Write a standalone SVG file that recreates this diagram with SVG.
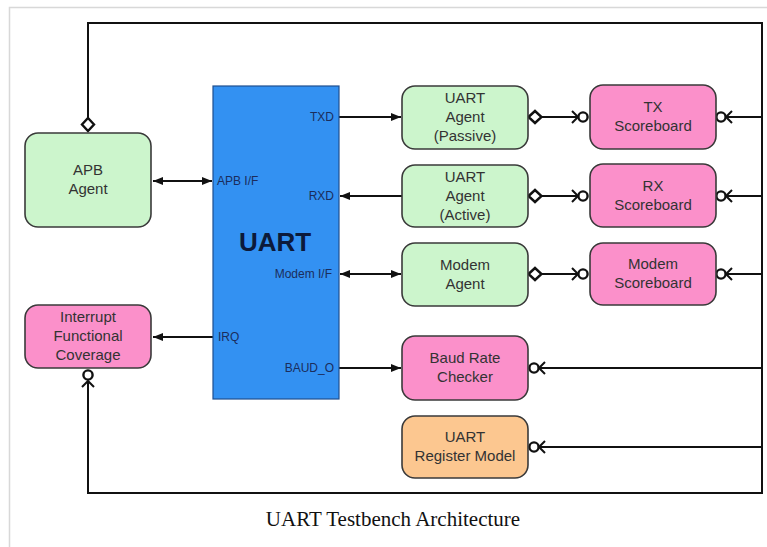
<svg xmlns="http://www.w3.org/2000/svg" width="767" height="547" viewBox="0 0 767 547">
  <defs>
    <style>
      .node { stroke: #3a3a3a; stroke-width: 1.6; }
      .green { fill: #ccf5cc; }
      .pink { fill: #fb90ca; }
      .orange { fill: #fcc790; }
      .uart { fill: #3391f2; stroke: #1f4f8f; stroke-width: 1.2; }
      .label { font-family: "Liberation Sans", Arial, sans-serif; font-size: 15px; fill: #333; text-anchor: middle; }
      .port { font-family: "Liberation Sans", Arial, sans-serif; font-size: 12px; fill: #1b2d5c; }
      .title { font-family: "Liberation Sans", Arial, sans-serif; font-size: 26px; font-weight: bold; fill: #0c1a3a; text-anchor: middle; }
      .caption { font-family: "Liberation Serif", "Times New Roman", serif; font-size: 21px; fill: #111; text-anchor: middle; }
      .wire { fill: none; stroke: #111; stroke-width: 2; }
      .port-sym { fill: #fff; stroke: #111; stroke-width: 2.4; }
      .chev { fill: none; stroke: #111; stroke-width: 2; }
    </style>
    <marker id="arrow" viewBox="0 0 10 8" refX="10" refY="4" markerWidth="10" markerHeight="8" markerUnits="userSpaceOnUse" orient="auto-start-reverse">
      <path d="M0,0 L10,4 L0,8 Z" fill="#111"/>
    </marker>
  </defs>

  <!-- page frame -->
  <rect width="767" height="547" fill="#fff"/>
  <path d="M9.5,547 V7.5 H767" fill="none" stroke="#d8d8d8" stroke-width="1.5"/>

  <!-- connectors -->
  <g id="connectors">
    <!-- global analysis loop -->
    <path class="wire" d="M88,118 V23 H762 V493 H88 V381"/>
    <path class="wire" d="M762,117 H726 M762,196 H726 M762,274 H726 M762,368 H539 M762,447 H539"/>

    <!-- UART pin connections -->
    <line class="wire" x1="153" y1="181" x2="212" y2="181" marker-start="url(#arrow)" marker-end="url(#arrow)"/>
    <line class="wire" x1="339" y1="117" x2="401" y2="117" marker-end="url(#arrow)"/>
    <line class="wire" x1="402" y1="196" x2="340" y2="196" marker-end="url(#arrow)"/>
    <line class="wire" x1="340" y1="274" x2="401" y2="274" marker-start="url(#arrow)" marker-end="url(#arrow)"/>
    <line class="wire" x1="213" y1="337" x2="153" y2="337" marker-end="url(#arrow)"/>
    <line class="wire" x1="339" y1="368" x2="401" y2="368" marker-end="url(#arrow)"/>

    <!-- agent to scoreboard analysis links -->
    <path class="wire" d="M541,117 H578 M541,196 H578 M541,274 H578"/>

    <!-- export diamonds -->
    <path class="port-sym" d="M88,118 L94,124.5 L88,131 L82,124.5 Z"/>
    <path class="port-sym" d="M528.5,117 L535,111 L541.5,117 L535,123 Z"/>
    <path class="port-sym" d="M528.5,196 L535,190 L541.5,196 L535,202 Z"/>
    <path class="port-sym" d="M528.5,274 L535,268 L541.5,274 L535,280 Z"/>

    <!-- imp circles with incoming chevrons -->
    <circle class="port-sym" cx="583" cy="117" r="4.6"/>
    <circle class="port-sym" cx="583" cy="196" r="4.6"/>
    <circle class="port-sym" cx="583" cy="274" r="4.6"/>
    <path class="chev" d="M572,111 L578,117 L572,123 M572,190 L578,196 L572,202 M572,268 L578,274 L572,280"/>

    <circle class="port-sym" cx="721" cy="117" r="4.6"/>
    <circle class="port-sym" cx="721" cy="196" r="4.6"/>
    <circle class="port-sym" cx="721" cy="274" r="4.6"/>
    <path class="chev" d="M732,111 L726,117 L732,123 M732,190 L726,196 L732,202 M732,268 L726,274 L732,280"/>

    <circle class="port-sym" cx="534" cy="368" r="4.6"/>
    <circle class="port-sym" cx="534" cy="447" r="4.6"/>
    <path class="chev" d="M545,362 L539,368 L545,374 M545,441 L539,447 L545,453"/>

    <circle class="port-sym" cx="88" cy="375" r="4.6"/>
    <path class="chev" d="M82,387 L88,381 L94,387"/>
  </g>

  <!-- UART DUT -->
  <g id="uart">
    <rect class="uart" x="213" y="86" width="126" height="313"/>
    <text class="title" x="275" y="251">UART</text>
    <text class="port" x="217" y="185">APB I/F</text>
    <text class="port" x="334" y="121" text-anchor="end">TXD</text>
    <text class="port" x="334" y="200" text-anchor="end">RXD</text>
    <text class="port" x="332" y="278" text-anchor="end">Modem I/F</text>
    <text class="port" x="218" y="341">IRQ</text>
    <text class="port" x="334" y="372" text-anchor="end">BAUD_O</text>
  </g>

  <g id="apb-agent">
    <rect class="node green" x="25" y="133" width="126" height="94" rx="13"/>
    <text class="label" x="88" y="175">APB</text>
    <text class="label" x="88" y="194">Agent</text>
  </g>

  <g id="irq-coverage">
    <rect class="node pink" x="25" y="305" width="126" height="63" rx="13"/>
    <text class="label" x="88" y="322">Interrupt</text>
    <text class="label" x="88" y="341">Functional</text>
    <text class="label" x="88" y="360">Coverage</text>
  </g>

  <g id="uart-agent-passive">
    <rect class="node green" x="402" y="86" width="126" height="63" rx="13"/>
    <text class="label" x="465" y="103">UART</text>
    <text class="label" x="465" y="122">Agent</text>
    <text class="label" x="465" y="141">(Passive)</text>
  </g>

  <g id="uart-agent-active">
    <rect class="node green" x="402" y="165" width="126" height="62" rx="13"/>
    <text class="label" x="465" y="182">UART</text>
    <text class="label" x="465" y="201">Agent</text>
    <text class="label" x="465" y="220">(Active)</text>
  </g>

  <g id="modem-agent">
    <rect class="node green" x="402" y="243" width="126" height="63" rx="13"/>
    <text class="label" x="465" y="270">Modem</text>
    <text class="label" x="465" y="289">Agent</text>
  </g>

  <g id="tx-scoreboard">
    <rect class="node pink" x="590" y="85" width="126" height="64" rx="13"/>
    <text class="label" x="653" y="112">TX</text>
    <text class="label" x="653" y="131">Scoreboard</text>
  </g>

  <g id="rx-scoreboard">
    <rect class="node pink" x="590" y="164" width="126" height="63" rx="13"/>
    <text class="label" x="653" y="191">RX</text>
    <text class="label" x="653" y="210">Scoreboard</text>
  </g>

  <g id="modem-scoreboard">
    <rect class="node pink" x="590" y="243" width="126" height="62" rx="13"/>
    <text class="label" x="653" y="269">Modem</text>
    <text class="label" x="653" y="288">Scoreboard</text>
  </g>

  <g id="baud-rate-checker">
    <rect class="node pink" x="402" y="336" width="126" height="64" rx="13"/>
    <text class="label" x="465" y="363">Baud Rate</text>
    <text class="label" x="465" y="382">Checker</text>
  </g>

  <g id="register-model">
    <rect class="node orange" x="402" y="416" width="126" height="62" rx="13"/>
    <text class="label" x="465" y="442">UART</text>
    <text class="label" x="465" y="461">Register Model</text>
  </g>

  <text class="caption" x="393" y="526">UART Testbench Architecture</text>
</svg>
